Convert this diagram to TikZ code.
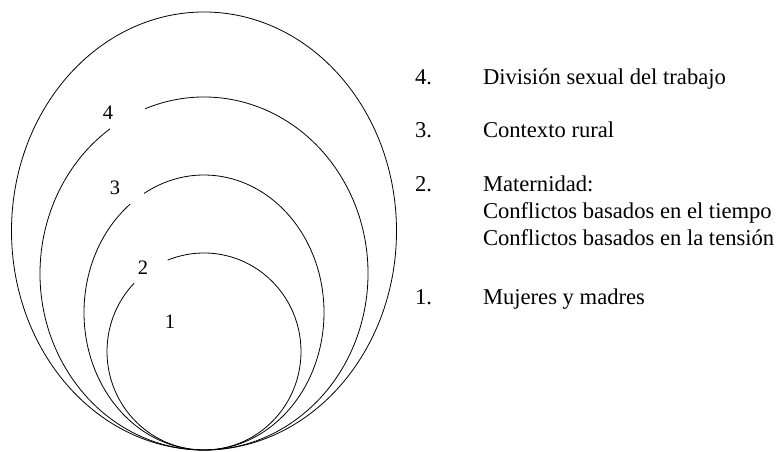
\documentclass[tikz,border=0pt]{standalone}
\usepackage{fontspec}
\setmainfont{Liberation Serif}

\begin{document}
\begin{tikzpicture}[x=1pt, y=1pt, thick]
      \tikzstyle{every node}=[inner sep=0pt, outer sep=0pt]
      \tikzstyle{ring label}=[font=\fontsize{20.5}{24}\selectfont]
      \tikzstyle{key text}=[anchor=base west, font=\fontsize{22.6}{27}\selectfont]
      \useasboundingbox (0,0) rectangle (781,452);
      \def \cx {204}
      % outer ring, closed
      \draw (\cx,221) ellipse [x radius=192.5, y radius=219];
      % inner rings, each with a gap for its label
      \foreach \cy/\rx/\ry/\a/\b in {178.5/164/176.5/111/125,
                                     139.5/120/137.5/120/128,
                                     100.5/97/98.5/112/136} {
        \draw ([shift={(\cx,\cy)}]\b:{\rx} and {\ry})
          arc[start angle=\b, end angle=\a+360, x radius=\rx, y radius=\ry];
      }
      \node[ring label] (lab4) at (108,339) {4};
      \node[ring label] (lab3) at (115,264) {3};
      \node[ring label] (lab2) at (143,184) {2};
      \node[ring label] (lab1) at (170,130) {1};
      % key
      \node[key text] (num4) at (415,367) {4.};
      \node[key text] (txt4) at (483,367) {División sexual del trabajo};
      \node[key text] (num3) at (415,314) {3.};
      \node[key text] (txt3) at (483,314) {Contexto rural};
      \node[key text] (num2) at (415,260) {2.};
      \node[key text] (txt2) at (483,260) {Maternidad:};
      \node[key text] (txt2a) at (483,233) {Conflictos basados en el tiempo};
      \node[key text] (txt2b) at (483,206) {Conflictos basados en la tensión};
      \node[key text] (num1) at (415,147) {1.};
      \node[key text] (txt1) at (483,147) {Mujeres y madres};
    \end{tikzpicture}
\end{document}
